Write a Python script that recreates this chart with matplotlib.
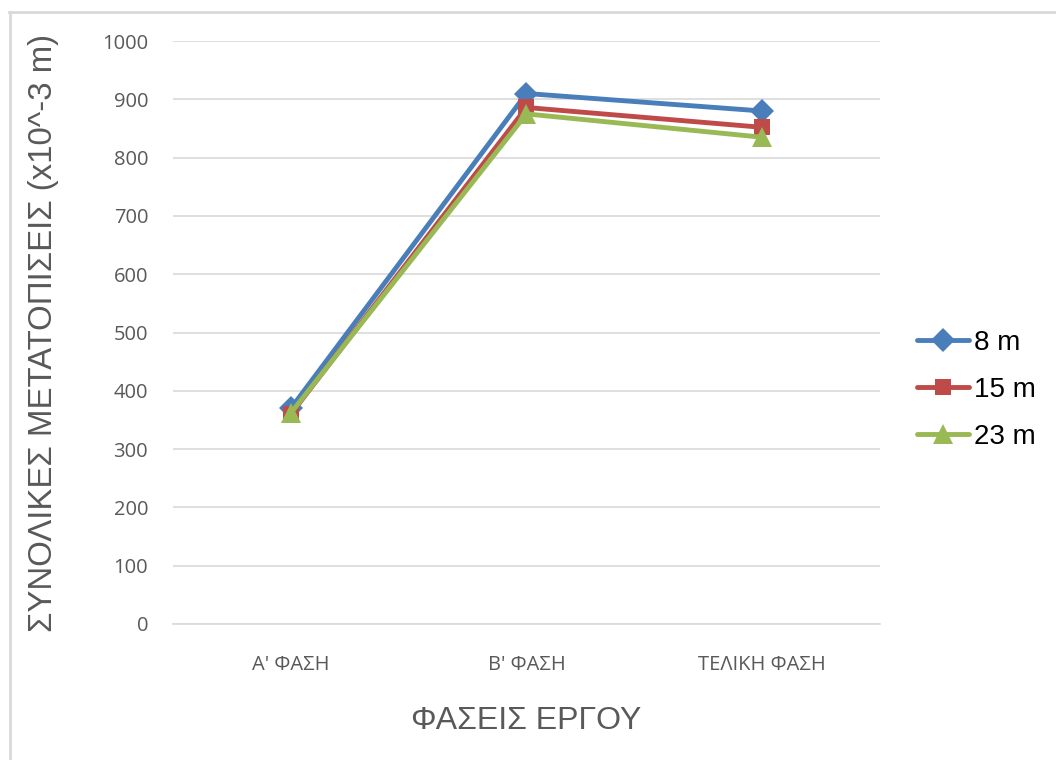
import matplotlib.pyplot as plt
from matplotlib.lines import Line2D

phases = ["Α' ΦΑΣΗ", "Β' ΦΑΣΗ", "ΤΕΛΙΚΗ ΦΑΣΗ"]
depths = ["8 m", "15 m", "23 m"]
disp_8m = [370, 910, 880]
disp_15m = [360, 886, 852]
disp_23m = [362, 875, 835]

colors = ["#4a7ebb", "#be4b48", "#98b954"]
markers = ["D", "s", "^"]
sizes = [12, 12, 14]

fig = plt.figure(figsize=(10.56, 7.6), dpi=100)
ax = fig.add_axes([0.164, 0.179, 0.669, 0.767])

x = [0.5, 1.5, 2.5]
for vals, label, c, m, ms in zip([disp_8m, disp_15m, disp_23m], depths, colors, markers, sizes):
  ax.plot(x, vals, color=c, linewidth=3.5, marker=m, markersize=ms,
          markeredgewidth=0, label=label, solid_capstyle="round")

ax.set_xlim(0, 3)
ax.set_ylim(0, 1000)
ax.set_yticks(range(0, 1001, 100))
ax.set_xticks(x)
ax.set_xticklabels(phases)
ax.grid(axis="y", color="#d9d9d9", linewidth=1.2)
ax.set_axisbelow(True)
for s in ["top", "right", "left"]:
  ax.spines[s].set_visible(False)
ax.spines["bottom"].set_color("#d9d9d9")
ax.spines["bottom"].set_linewidth(1.2)
ax.tick_params(length=0, colors="#595959", labelsize=14.5)
ax.tick_params(axis="x", pad=22)
ax.tick_params(axis="y", pad=18)
for t in ax.get_xticklabels() + ax.get_yticklabels():
  t.set_family("Open Sans")

ax.set_xlabel("ΦΑΣΕΙΣ ΕΡΓΟΥ", fontsize=23, color="#595959",
              family="Liberation Sans", labelpad=23)
ax.set_ylabel("ΣΥΝΟΛΙΚΕΣ ΜΕΤΑΤΟΠΙΣΕΙΣ (x10^-3 m)", fontsize=23.8,
              color="#595959", family="Liberation Sans", labelpad=31)

handles = [Line2D([0], [0], color=c, linewidth=3.5, marker=m, markersize=ms,
                  markeredgewidth=0, solid_capstyle="round")
           for c, m, ms in zip(colors, markers, sizes)]
leg = fig.legend(handles, depths, loc="center left", bbox_to_anchor=(0.845, 0.487),
                 frameon=False, prop={"family": "Liberation Sans", "size": 20},
                 handlelength=1.85, handletextpad=0.2, labelspacing=0.75)

# thin frame on the left and top edges of the chart area
fig.add_artist(Line2D([0.0095, 0.0095], [0, 1 - 12 / 760], color="#d9d9d9",
                      linewidth=2, transform=fig.transFigure))
fig.add_artist(Line2D([0.0085, 1], [1 - 12 / 760, 1 - 12 / 760], color="#d9d9d9",
                      linewidth=2, transform=fig.transFigure))

fig.savefig("out.png", dpi=100)
